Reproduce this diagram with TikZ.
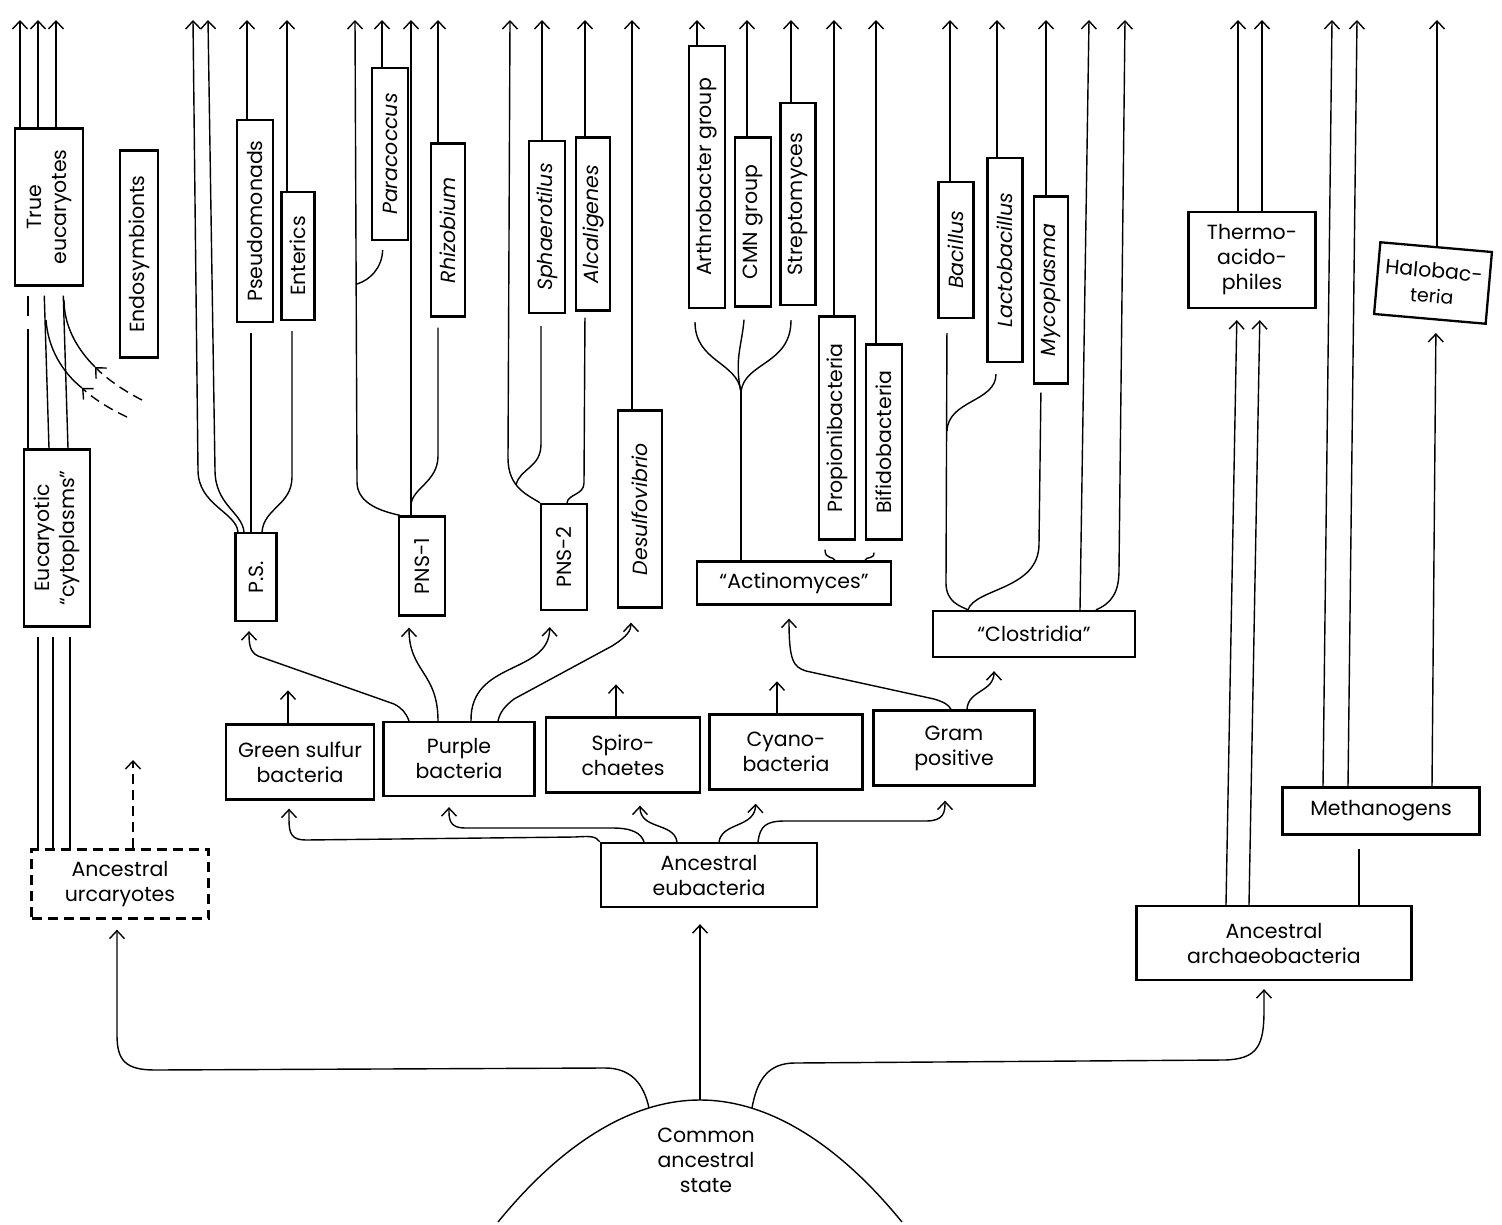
\documentclass[tikz,border=0pt]{standalone}
\usepackage{fontspec}
\setmainfont{Poppins}
\usetikzlibrary{arrows.meta}
\tikzset{>={Straight Barb[length=8pt,width=15pt]}}
\tikzset{
  box/.style={draw,line width=2.3pt,inner sep=0pt,align=center,font=\fontsize{20.5}{25}\selectfont},
  tall/.style={box,rotate=90},
  genus/.style={tall,font=\fontsize{20.5}{25}\selectfont\itshape},
  broken/.style={dash pattern=on 10pt off 6pt},
}
\def\rise#1#2{\draw[->] (#1,0 |- #2) -- (#1,0 |- tips);}
\begin{document}
\begin{tikzpicture}[x=1pt,y=-1pt,line width=1.4pt]
\useasboundingbox (0,0) rectangle (1502,1225);
\coordinate (tips) at (0,20);
\node[tall,minimum width=157,minimum height=68] (teuk) at (49,207) {True\\eucaryotes};
\node[tall,minimum width=207,minimum height=38] (endo) at (139,254) {Endosymbionts};
\node[tall,minimum width=177,minimum height=66] (cyto) at (57,538) {Eucaryotic\\``cytoplasms''};
\node[box,broken,minimum width=177,minimum height=69] (urk) at (120,884) {Ancestral\\urcaryotes};
\node[box,minimum width=216,minimum height=64] (eubac) at (709,875) {Ancestral\\eubacteria};
\node[box,minimum width=148,minimum height=75] (green) at (300,762) {Green sulfur\\bacteria};
\node[box,minimum width=151,minimum height=74] (purple) at (459,759) {Purple\\bacteria};
\node[box,minimum width=154,minimum height=75] (spiro) at (623,755) {Spiro-\\chaetes};
\node[box,minimum width=153,minimum height=75] (cyano) at (786,752) {Cyano-\\bacteria};
\node[box,minimum width=161,minimum height=75] (gram) at (954,748) {Gram\\positive};
\node[tall,minimum width=88,minimum height=41] (ps) at (256,577) {P.S.};
\node[tall,minimum width=202,minimum height=36] (pseudo) at (255,221) {Pseudomonads};
\node[tall,minimum width=128,minimum height=33] (enter) at (298,256) {Enterics};
\node[tall,minimum width=99,minimum height=46] (pns1) at (422,566) {PNS-1};
\node[genus,minimum width=172,minimum height=36] (para) at (390,154) {Paracoccus};
\node[genus,minimum width=173,minimum height=34] (rhizo) at (448,230) {Rhizobium};
\node[tall,minimum width=106,minimum height=46] (pns2) at (564,557) {PNS-2};
\node[genus,minimum width=172,minimum height=36] (sphae) at (547,227) {Sphaerotilus};
\node[genus,minimum width=173,minimum height=34] (alcal) at (593,224) {Alcaligenes};
\node[genus,minimum width=197,minimum height=44] (desulfo) at (640,509) {Desulfovibrio};
\node[box,minimum width=194,minimum height=43] (actino) at (794,583) {``Actinomyces''};
\node[tall,minimum width=262,minimum height=36] (arthro) at (707,177) {Arthrobacter group};
\node[tall,minimum width=169,minimum height=36] (cmn) at (753,222) {CMN group};
\node[tall,minimum width=202,minimum height=35] (strepto) at (798,204) {Streptomyces};
\node[tall,minimum width=223,minimum height=36] (propio) at (837,428) {Propionibacteria};
\node[tall,minimum width=195,minimum height=36] (bifido) at (884,442) {Bifidobacteria};
\node[box,minimum width=202,minimum height=46] (clost) at (1034,634) {``Clostridia''};
\node[genus,minimum width=136,minimum height=35] (bacil) at (956,250) {Bacillus};
\node[genus,minimum width=204,minimum height=35] (lacto) at (1005,260) {Lactobacillus};
\node[genus,minimum width=187,minimum height=34] (myco) at (1051,290) {Mycoplasma};
\node[box,minimum width=275,minimum height=74] (archaeo) at (1274,943) {Ancestral\\archaeobacteria};
\node[box,minimum width=197,minimum height=47] (meth) at (1381,811) {Methanogens};
\node[box,minimum width=127,minimum height=96] (thermo) at (1252,260) {Thermo-\\acido-\\philes};
\node[box,rotate=-5,minimum width=112,minimum height=72] (halo) at (1433,283) {Halobac-\\{\fontsize{19}{22}\selectfont teria}};
\node[align=center,font=\fontsize{20.5}{25}\selectfont] (cas) at (706,1160) {Common\\ancestral\\state};
\draw (498,1222) parabola bend (700,1100) (902,1222);
\coordinate (dl) at (649,1108);
\coordinate (dm) at (700,1100);
\coordinate (dr) at (752,1108);
\draw[->,shorten >=10pt] (dl) .. controls (644,1085) and (632,1068) .. (605,1068) -- (155,1070) .. controls (125,1070) and (117,1060) .. (117,1035) -- (117,0 |- urk.south);
\draw[->,shorten >=16pt] (dm) -- (dm |- eubac.south);
\draw[->,shorten >=8pt] (dr) .. controls (757,1080) and (768,1063) .. (795,1063) -- (1225,1060) .. controls (1258,1059) and (1264,1045) .. (1264,1010) -- (1264,0 |- archaeo.south);
\draw[->,shorten >=8pt] (eubac.north west) .. controls (596,836) and (590,836) .. (575,837) -- (306,840) .. controls (292,840) and (289,834) .. (289,820) -- (289,0 |- green.south);
\draw[->,shorten >=10pt] (644,0 |- eubac.north) .. controls (641,833) and (632,828) .. (612,828) -- (465,828) .. controls (452,828) and (449,822) .. (449,812) -- (449,0 |- purple.south);
\draw[->,shorten >=12pt] (677,0 |- eubac.north) .. controls (674,822) and (640,830) .. (640,0 |- spiro.south);
\draw[->,shorten >=13pt] (719,0 |- eubac.north) .. controls (722,822) and (755,828) .. (756,0 |- cyano.south);
\draw[->,shorten >=14pt] (758,0 |- eubac.north) .. controls (760,826) and (766,821) .. (785,821) -- (926,821) .. controls (944,821) and (945,812) .. (945,0 |- gram.south);
\draw[->] (288,0 |- green.north) -- +(0,-33);
\draw[->] (616,0 |- spiro.north) -- +(0,-32);
\draw[->] (777,0 |- cyano.north) -- +(0,-32);
\draw[->,shorten >=9pt] (409,0 |- purple.north) .. controls (406,713) and (402,708) .. (394,704) -- (258,656) .. controls (250,652) and (249,645) .. (249,0 |- ps.west);
\draw[->,shorten >=11pt] (438,0 |- purple.north) .. controls (438,672) and (409,672) .. (409,0 |- pns1.west);
\draw[->,shorten >=16pt] (471,0 |- purple.north) .. controls (470,660) and (549,675) .. (550,0 |- pns2.west);
\draw[->,shorten >=14pt] (498,0 |- purple.north) .. controls (500,712) and (505,706) .. (514,699) -- (612,646) .. controls (628,636) and (631,630) .. (631,0 |- desulfo.west);
\draw[->,shorten >=13pt] (951,0 |- gram.north) .. controls (949,705) and (944,702) .. (934,699) -- (806,671) .. controls (793,667) and (789,660) .. (789,0 |- actino.south);
\draw[->,shorten >=13pt] (967,0 |- gram.north) .. controls (968,690) and (994,692) .. (994,0 |- clost.south);
\rise{20}{teuk.east}
\rise{38}{teuk.east}
\rise{56}{teuk.east}
\draw[shorten <=9pt,dash pattern=on 20pt off 13pt on 300pt] (28,0 |- teuk.west) -- (28,0 |- cyto.east);
\draw[shorten <=9pt] (44,0 |- teuk.west) -- (49,0 |- cyto.east);
\draw[shorten <=9pt] (63,0 |- teuk.west) -- (68,0 |- cyto.east);
\coordinate (e1) at (127,417);
\coordinate (e2) at (142,400);
\coordinate (a1) at (82,388);
\coordinate (a2) at (95,367);
\draw[->,broken] (e1) .. controls (112,410) and (95,400) .. (a1);
\draw (a1) .. controls (62,372) and (48,348) .. (46,320);
\draw[->,broken] (e2) .. controls (126,392) and (108,380) .. (a2);
\draw (a2) .. controls (76,348) and (64,325) .. (64,300);
\draw[shorten <=9pt] (38,0 |- cyto.west) -- (38,0 |- urk.north);
\draw[shorten <=9pt] (53,0 |- cyto.west) -- (53,0 |- urk.north);
\draw[shorten <=9pt] (70,0 |- cyto.west) -- (70,0 |- urk.north);
\coordinate (ud) at (133,760);
\draw[->,broken] (133,0 |- urk.north) -- (ud);
\draw[->] (238,0 |- ps.east) .. controls (236,512) and (198,505) .. (198,470) -- (193,0 |- tips);
\draw[->] (244,0 |- ps.east) .. controls (242,512) and (215,505) .. (215,470) -- (208,0 |- tips);
\draw[shorten >=10pt] (251,0 |- ps.east) -- (251,0 |- pseudo.west);
\draw[shorten >=10pt] (262,0 |- ps.east) .. controls (264,508) and (292,505) .. (292,477) -- (292,0 |- enter.west);
\rise{247}{pseudo.east}
\rise{287}{enter.east}
\draw[->] (400,0 |- pns1.east) .. controls (385,512) and (357,505) .. (357,482) -- (355,0 |- tips);
\coordinate (pj) at (357,284);
\draw[shorten <=9pt] (383,0 |- para.west) .. controls (382,268) and (370,280) .. (pj);
\rise{382}{para.east}
\draw[->] (411,0 |- pns1.east) -- (411,0 |- tips);
\rise{438}{rhizo.east}
\coordinate (rj) at (411,505);
\draw[shorten <=10pt] (438,0 |- rhizo.west) -- (438,456) .. controls (438,482) and (412,488) .. (rj);
\draw[->] (540,0 |- pns2.east) .. controls (528,495) and (508,488) .. (508,458) -- (510,0 |- tips);
\coordinate (sj) at (516,485);
\draw[shorten <=12pt] (541,0 |- sphae.west) -- (541,444) .. controls (541,468) and (520,468) .. (sj);
\rise{542}{sphae.east}
\rise{585}{alcal.east}
\draw[shorten <=6pt] (585,0 |- alcal.west) -- (584,483) .. controls (584,495) and (568,494) .. (567,0 |- pns2.east);
\rise{632}{desulfo.east}
\rise{697}{arthro.east}
\rise{747}{cmn.east}
\rise{791}{strepto.east}
\rise{834}{propio.east}
\rise{876}{bifido.east}
\coordinate (fk) at (741,392);
\draw[shorten <=13pt] (695,0 |- arthro.west) .. controls (695,362) and (738,362) .. (fk);
\draw[shorten <=12pt] (745,0 |- cmn.west) .. controls (742,345) and (734,360) .. (fk);
\draw[shorten <=14pt] (791,0 |- strepto.west) .. controls (791,365) and (744,362) .. (fk);
\draw (fk) -- (741,0 |- actino.north);
\draw[shorten <=9pt] (825,0 |- propio.west) .. controls (825,560) and (834,556) .. (835,0 |- actino.north);
\draw[shorten <=12pt] (874,0 |- bifido.west) .. controls (874,560) and (866,556) .. (865,0 |- actino.north);
\rise{950}{bacil.east}
\rise{997}{lacto.east}
\rise{1046}{myco.east}
\draw[->] (1080,0 |- clost.north) -- (1089,0 |- tips);
\draw[->] (1096,0 |- clost.north) .. controls (1112,603) and (1119,592) .. (1119,570) -- (1125,0 |- tips);
\coordinate (lj) at (947,431);
\draw[shorten <=14pt] (947,0 |- bacil.west) -- (946,583) .. controls (946,602) and (960,606) .. (968,0 |- clost.north);
\draw[shorten <=11pt] (996,0 |- lacto.west) .. controls (996,402) and (948,400) .. (lj);
\draw[shorten <=8pt] (1041,0 |- myco.west) -- (1039,544) .. controls (1039,590) and (975,588) .. (968,0 |- clost.north);
\rise{1238}{thermo.north}
\rise{1262}{thermo.north}
\draw[->,shorten >=11pt] (1226,0 |- archaeo.north) -- (1237,0 |- thermo.south);
\draw[->,shorten >=11pt] (1249,0 |- archaeo.north) -- (1260,0 |- thermo.south);
\draw[->] (1323,0 |- meth.north) -- (1332,0 |- tips);
\draw[->] (1348,0 |- meth.north) -- (1357,0 |- tips);
\draw[->,shorten >=13pt] (1432,0 |- meth.north) -- (1436,0 |- halo.south);
\rise{1437}{halo.north}
\draw[shorten >=13pt] (1359,0 |- archaeo.north) -- (1359,0 |- meth.south);
\end{tikzpicture}
\end{document}
